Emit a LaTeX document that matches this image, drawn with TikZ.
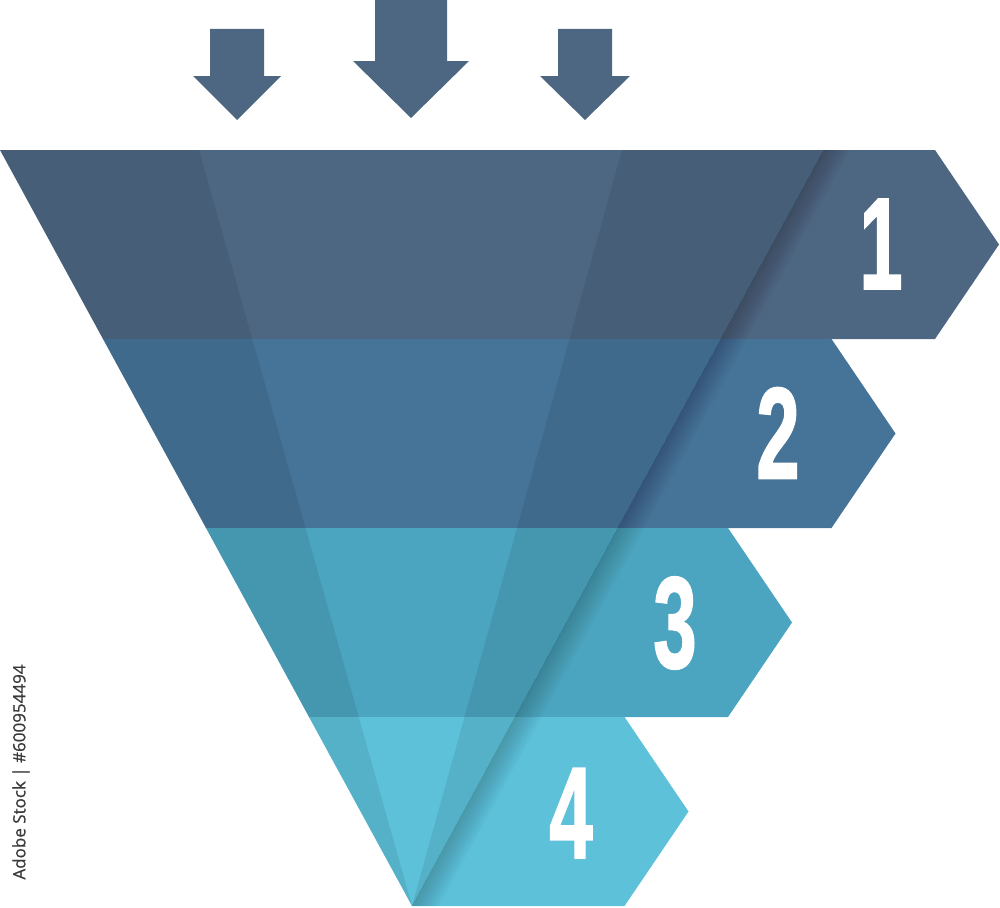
\documentclass[tikz,border=0pt]{standalone}
\usepackage{fontspec}
\setmainfont{Liberation Sans}
\newfontfamily\idfont{Open Sans}[FakeBold=0.7]
\newfontfamily\numfont{Liberation Sans}[BoldFeatures={FakeBold=1.6}]
\definecolor{bandA}{HTML}{4D6782}
\definecolor{bandB}{HTML}{457498}
\definecolor{bandC}{HTML}{4BA4C0}
\definecolor{bandD}{HTML}{5DC1D9}
\definecolor{arrowc}{HTML}{4D6782}
\definecolor{idgray}{HTML}{3A3A3A}
\tikzset{
  num/.style={text=white, font=\numfont\fontsize{130}{130}\selectfont\bfseries, inner sep=0pt},
  arrowshape/.style={fill=arrowc},
  darkstripe/.style={fill=black, opacity=0.08},
  creaseshadow/.style={fill=black, opacity=0.012}
}
\begin{document}
\begin{tikzpicture}[x=1pt,y=-1pt]
\useasboundingbox (0,0) rectangle (1000,907);

% funnel bands with tags
\foreach \i/\col in {0/bandA,1/bandB,2/bandC,3/bandD}{
  \pgfmathsetmacro\yt{150+189*\i}
  \pgfmathsetmacro\yb{\yt+189}
  \pgfmathsetmacro\ym{\yt+94.5}
  \pgfmathsetmacro\xlt{0.545*(\yt-150)}
  \pgfmathsetmacro\xlb{0.545*(\yb-150)}
  \pgfmathsetmacro\xr{935-103.5*\i}
  \pgfmathsetmacro\xp{\xr+64}
  \begin{scope}
    \path[clip] (\xlt,\yt) -- (\xr,\yt) -- (\xp,\ym) -- (\xr,\yb) -- (\xlb,\yb) -- cycle;
    \fill[\col] (-10,100) rectangle (1010,950);
    \fill[darkstripe] (0,150) -- (199,150) -- (412,906) -- cycle;
    \fill[darkstripe] (622,150) -- (824,150) -- (412,906) -- cycle;
    \foreach \k in {1,...,16}{
      \fill[creaseshadow] (851,100) -- (851+1.7*\k,100) -- (388+1.7*\k,950) -- (388,950) -- cycle;
    }
  \end{scope}
}

% arrows on top
\fill[arrowshape] (210,29) -- (264,29) -- (264,76) -- (281,76) -- (237,120) -- (193,76) -- (210,76) -- cycle;
\fill[arrowshape] (375,-2) -- (447,-2) -- (447,61) -- (469,61) -- (411,118) -- (353,61) -- (375,61) -- cycle;
\fill[arrowshape] (558,29) -- (612,29) -- (612,76) -- (630,76) -- (585,120) -- (540,76) -- (558,76) -- cycle;

% numbers
\node[num] (n1) at (881,244) {\scalebox{0.6}[1]{1}};
\node[num] (n2) at (778,433) {\scalebox{0.6}[1]{2}};
\node[num] (n3) at (675,623) {\scalebox{0.6}[1]{3}};
\node[num] (n4) at (571,813) {\scalebox{0.6}[1]{4}};

% side id text
\node[rotate=90, font=\idfont\fontsize{17}{17}\selectfont, text=idgray, inner sep=0pt] (stockid) at (21,772) {Adobe Stock | \#600954494};
\end{tikzpicture}
\end{document}
